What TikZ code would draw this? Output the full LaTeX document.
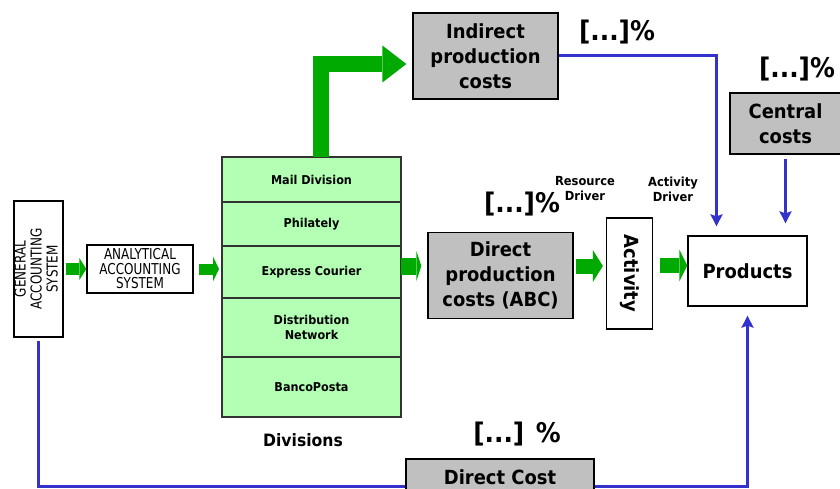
\documentclass[tikz,border=0pt]{standalone}
\usepackage{fontspec}
\setmainfont{DejaVu Sans}[FakeStretch=0.92]
\newfontfamily\narrowfont[FakeStretch=0.8]{DejaVu Sans}
\usetikzlibrary{positioning,arrows.meta}
\definecolor{flowgreen}{HTML}{00AA00}
\definecolor{divgreen}{HTML}{B3FFB3}
\definecolor{costgray}{HTML}{C0C0C0}
\definecolor{linkblue}{HTML}{3333CC}
\tikzstyle{plainbox} = [rectangle, draw=black, line width=1.3pt, fill=white, align=center, inner sep=0pt]
\tikzstyle{costbox} = [plainbox, fill=costgray, font=\fontsize{19.5}{25}\selectfont\bfseries]
\tikzstyle{rowbox} = [rectangle, draw=black!80, line width=1.2pt, fill=divgreen, minimum width=179pt,
                      outer sep=0pt, align=center, font=\fontsize{12.2}{15.5}\selectfont\bfseries]
\tikzstyle{pct} = [font=\fontsize{27}{30}\selectfont\bfseries, inner sep=0pt]
\tikzstyle{driver} = [align=center, font=\fontsize{12.5}{15}\selectfont\bfseries, inner sep=0pt]
\tikzstyle{flow} = [draw=flowgreen, line width=15pt, -{Triangle[length=9pt,width=32pt,line width=0pt]}]
\tikzstyle{link} = [draw=linkblue, line width=3pt, -{Stealth[length=12pt,width=12pt,inset=2pt]}]

\begin{document}
\begin{tikzpicture}[x=1pt, y=-1pt]
\useasboundingbox (0,0) rectangle (840,489);

% Nodes
\node (gen) [plainbox, minimum width=49pt, minimum height=136pt] at (38.5,269)
    {\rotatebox{90}{\narrowfont\fontsize{15}{16}\selectfont\begin{tabular}{@{}c@{}}GENERAL\\ACCOUNTING\\SYSTEM\end{tabular}}};
\node (ana) [plainbox, minimum width=106pt, minimum height=48pt, font=\narrowfont\fontsize{15}{14.5}\selectfont] at (140,269)
    {ANALYTICAL\\ACCOUNTING\\SYSTEM};

\node (mail) [rowbox, minimum height=45pt] at (311.5,179.5) {Mail Division};
\node (phil) [rowbox, minimum height=44pt, below=0pt of mail] {Philately};
\node (express) [rowbox, minimum height=52pt, below=0pt of phil] {Express Courier};
\node (distnet) [rowbox, minimum height=59pt, below=0pt of express] {Distribution\\Network};
\node (banco) [rowbox, minimum height=60pt, below=0pt of distnet] {BancoPosta};
\node (divlabel) [font=\fontsize{17}{19}\selectfont\bfseries] at (303,440) {Divisions};

\node (indirect) [costbox, minimum width=145pt, minimum height=86pt] at (485.5,56) {Indirect\\production\\costs};
\node (direct) [costbox, minimum width=145pt, minimum height=86pt] at (500.5,275.5) {Direct\\production\\costs (ABC)};
\node (central) [costbox, minimum width=111pt, minimum height=61pt] at (785.5,123.5) {Central\\costs};

\node (act) [plainbox, minimum width=46pt, minimum height=111pt, font=\fontsize{19.5}{22}\selectfont\bfseries] at (629.5,273.5)
    {\rotatebox{-90}{Activity}};
\node (products) [plainbox, minimum width=119pt, minimum height=70pt, font=\fontsize{19.5}{22}\selectfont\bfseries] at (747.5,271)
    {Products};

\node (pctind) [pct] at (617,32) {[...]\%};
\node (pctcen) [pct] at (797,69) {[...]\%};
\node (pctdir) [pct] at (522,204) {[...]\%};
\node (resdrv) [driver] at (585,189) {Resource\\Driver};
\node (actdrv) [driver] at (673,189) {Activity\\Driver};

% Green flows
\draw [flow, line width=12pt, -{Triangle[length=7pt,width=22pt,line width=0pt]}, shorten <=2pt] (gen) -- (ana);
\draw [flow, line width=11pt, -{Triangle[length=6pt,width=25pt,line width=0pt]}, shorten <=5pt, shorten >=3pt] (ana) -- (ana -| mail.west);
\draw [flow, line width=17pt, -{Triangle[length=5pt,width=30pt,line width=0pt]}, shorten >=6pt]
    ([yshift=6pt]express.east) -- ([yshift=6pt]express.east -| direct.west);
\draw [flow, -{Triangle[length=10pt,width=32pt,line width=0pt]}, shorten <=2pt, shorten >=3pt]
    ([yshift=9.5pt]direct.east) -- ([yshift=9.5pt]direct.east -| act.west);
\draw [flow, -{Triangle[length=8pt,width=32pt,line width=0pt]}, shorten <=7pt]
    ([yshift=8pt]act.east) -- ([yshift=8pt]act.east -| products.west);
\draw [flow, line width=16pt, line join=miter, -{Triangle[length=24pt,width=37pt,line width=0pt]}, shorten >=6pt]
    ([xshift=9pt]mail.north) |- ([yshift=-8pt]indirect.west);

% Blue links
\draw [link, shorten >=9pt] (indirect.east) -| ([xshift=-31pt]products.north);
\draw [link, shorten <=4pt, shorten >=12pt] (central) -- (central |- products.north);
\coordinate (base) at (0,486);
\draw [link, shorten <=3pt, shorten >=9pt] (gen) -- (gen |- base) -| (products.south);

\node (pctbot) [pct] at (517,434) {[...] \%};
\node (dcost) [costbox, minimum width=188pt, minimum height=36pt] at (500,477) {Direct Cost};
\end{tikzpicture}
\end{document}
